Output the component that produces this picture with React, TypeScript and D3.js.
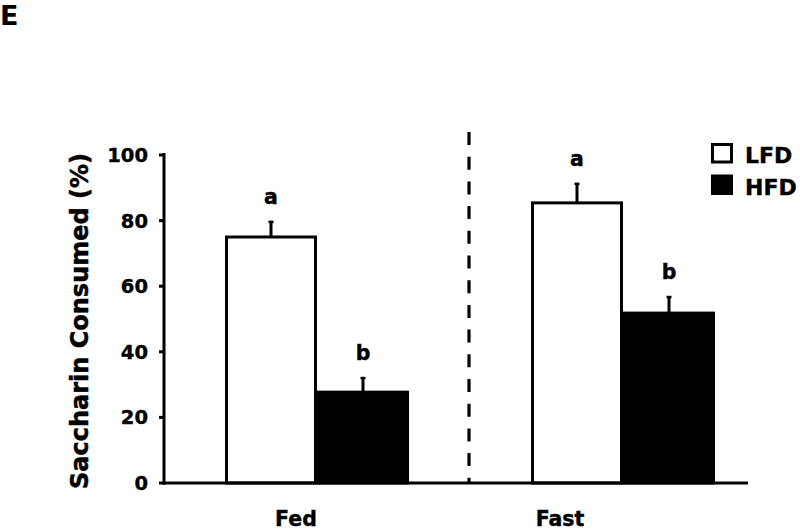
import React from "react";
import * as d3 from "d3";

const groups = ["Fed", "Fast"];
const series = ["LFD", "HFD"];
const means: number[][] = [
  [75.0, 27.7],
  [85.4, 51.8],
];
const errors: number[][] = [
  [4.9, 4.6],
  [6.1, 5.2],
];
const letters: string[][] = [
  ["a", "b"],
  ["a", "b"],
];
const yTicks = [0, 20, 40, 60, 80, 100];
const yTitle = "Saccharin Consumed (%)";
const panelLabel = "E";

const W = 800;
const H = 532;
const FONT = "'DejaVu Sans', Verdana, sans-serif";

export default function App() {
  const y = d3.scaleLinear().domain([0, 100]).range([483, 155]);
  const x0 = d3.scaleBand<string>().domain(groups).range([164, 776]).paddingInner(0).paddingOuter(0);
  const bw = x0.bandwidth();
  const barW = 92;
  const x1 = d3
    .scaleBand<string>()
    .domain(series)
    .range([bw / 2 - barW, bw / 2 + barW])
    .padding(0);
  const fills = ["#ffffff", "#000000"];
  const labelOffsets = [-21, -63];
  const axisX = 164;
  const axisEnd = 748;

  return (
    <svg
      width={W}
      height={H}
      style={{ position: "absolute", left: 0, top: 0, background: "#fff" }}
      fontFamily={FONT}
      fontWeight="bold"
    >
      <rect x={0} y={0} width={W} height={H} fill="#fff" />
      <text x={0} y={25} fontSize={27}>{panelLabel}</text>

      {/* y axis */}
      <line x1={axisX} x2={axisX} y1={y(100) - 2} y2={y(0) + 1.5} stroke="#000" strokeWidth={3} />
      {yTicks.map((t) => (
        <g key={t}>
          <line x1={axisX - 5} x2={axisX} y1={y(t)} y2={y(t)} stroke="#000" strokeWidth={3} />
          <text x={148} y={y(t) + 7} fontSize={19.5} textAnchor="end" stroke="#000" strokeWidth={0.4}>{t}</text>
        </g>
      ))}
      <text
        transform={`translate(88, ${(150 + 492) / 2}) rotate(-90)`}
        fontSize={24}
        textAnchor="middle"
        stroke="#000"
        strokeWidth={0.5}
      >
        {yTitle}
      </text>

      {/* divider */}
      <line
        x1={x0("Fast")! - 1}
        x2={x0("Fast")! - 1}
        y1={132}
        y2={y(0)}
        stroke="#000"
        strokeWidth={3.2}
        strokeDasharray="13 11.7"
      />

      {/* bars */}
      {groups.map((g, gi) =>
        series.map((s, si) => {
          const bx = x0(g)! + x1(s)!;
          const v = means[gi][si];
          const e = errors[gi][si];
          const cx = bx + x1.bandwidth() / 2;
          return (
            <g key={g + s}>
              <line x1={cx} x2={cx} y1={y(v)} y2={y(v + e)} stroke="#000" strokeWidth={3} />
              <line x1={cx - 2.5} x2={cx + 2.5} y1={y(v + e) + 1} y2={y(v + e) + 1} stroke="#000" strokeWidth={2.5} />
              <rect
                x={bx + 1.5}
                y={y(v)}
                width={x1.bandwidth() - 3}
                height={y(0) - y(v)}
                fill={fills[si]}
                stroke="#000"
                strokeWidth={3}
              />
              <text x={cx} y={y(v + e) - 17} fontSize={20.5} textAnchor="middle" stroke="#000" strokeWidth={0.4}>
                {letters[gi][si]}
              </text>
            </g>
          );
        })
      )}

      {/* x axis */}
      <line x1={axisX - 1.5} x2={axisEnd} y1={y(0)} y2={y(0)} stroke="#000" strokeWidth={3} />
      {groups.map((g, gi) => (
        <text
          key={g}
          x={x0(g)! + bw / 2 + labelOffsets[gi]}
          y={526}
          fontSize={20.5}
          textAnchor="middle"
          stroke="#000"
          strokeWidth={0.4}
        >
          {g}
        </text>
      ))}

      {/* legend */}
      {series.map((s, si) => (
        <g key={s}>
          <rect
            x={712.5}
            y={144.5 + si * 31.5}
            width={19}
            height={17.5}
            fill={fills[si]}
            stroke="#000"
            strokeWidth={3}
          />
          <text x={745} y={163 + si * 31.5} fontSize={22} stroke="#000" strokeWidth={0.4}>{s}</text>
        </g>
      ))}
    </svg>
  );
}
